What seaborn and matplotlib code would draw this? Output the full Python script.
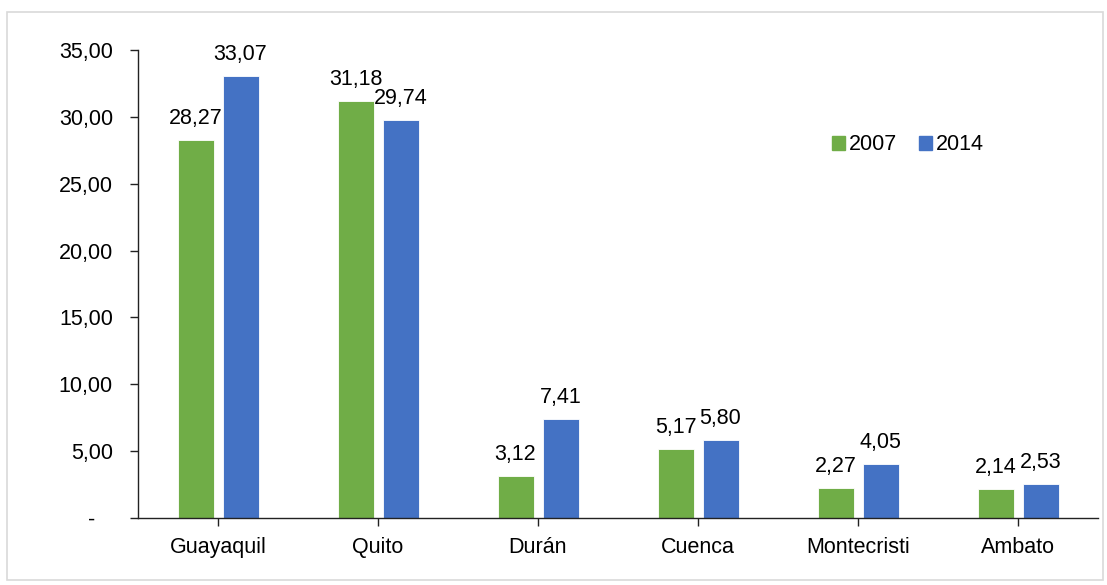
import matplotlib
matplotlib.use("Agg")
import matplotlib.pyplot as plt
import matplotlib.patches as mpatches
import seaborn as sns
import pandas as pd

ciudades = ["Guayaquil", "Quito", "Durán", "Cuenca", "Montecristi", "Ambato"]
v2007 = [28.27, 31.18, 3.12, 5.17, 2.27, 2.14]
v2014 = [33.07, 29.74, 7.41, 5.80, 4.05, 2.53]
anios = ["2007", "2014"]
colores = ["#70AD47", "#4472C4"]

df = pd.DataFrame({
    "ciudad": ciudades * 2,
    "anio": [anios[0]] * len(ciudades) + [anios[1]] * len(ciudades),
    "valor": v2007 + v2014,
})

sns.set_style("white")
plt.rcParams["font.family"] = ["Liberation Sans", "DejaVu Sans"]
plt.rcParams["text.color"] = "black"

fig = plt.figure(figsize=(11.07, 5.85), dpi=100)
ax = fig.add_axes([138 / 1107, 67 / 585, 960 / 1107, 468 / 585])

sns.barplot(data=df, x="ciudad", y="valor", hue="anio", palette=colores,
            saturation=1, width=0.5625, gap=0.2, edgecolor="white",
            linewidth=0.6, ax=ax, legend=False)

# etiquetas de valor con coma decimal
for cont in ax.containers:
    ax.bar_label(cont, labels=[f"{v:.2f}".replace(".", ",") for v in cont.datavalues],
                 padding=8, fontsize=15.5, color="black")

ax.set_ylim(0, 35)
ax.set_yticks(range(0, 36, 5))
ax.set_yticklabels(["-   "] + [f"{v:.2f}".replace(".", ",") for v in range(5, 36, 5)])
ax.set_xlim(-0.5, len(ciudades) - 0.5)
ax.set_xlabel("")
ax.set_ylabel("")
ax.tick_params(axis="both", labelsize=15.5, length=6, width=1, color="#222222",
               labelcolor="black", direction="out", left=True, bottom=True)
ax.tick_params(axis="x", pad=8)
ax.tick_params(axis="y", pad=12)
for s in ["top", "right"]:
    ax.spines[s].set_visible(False)
for s in ["left", "bottom"]:
    ax.spines[s].set_color("#222222")
    ax.spines[s].set_linewidth(1)

handles = [mpatches.Patch(color=c, label=a) for c, a in zip(colores, anios)]
fig.legend(handles=handles, loc="center", bbox_to_anchor=(908 / 1107, 1 - 145 / 585),
           ncol=2, frameon=False, fontsize=15.5, handlelength=0.6, handleheight=0.6,
           handletextpad=0.2, columnspacing=1.0)

border = mpatches.Rectangle((7 / 1107, 5 / 585), 1096 / 1107, 568 / 585,
                            transform=fig.transFigure, fill=False,
                            edgecolor="#d9d9d9", linewidth=1.2)
fig.patches.append(border)

fig.savefig("out.png", dpi=100)
